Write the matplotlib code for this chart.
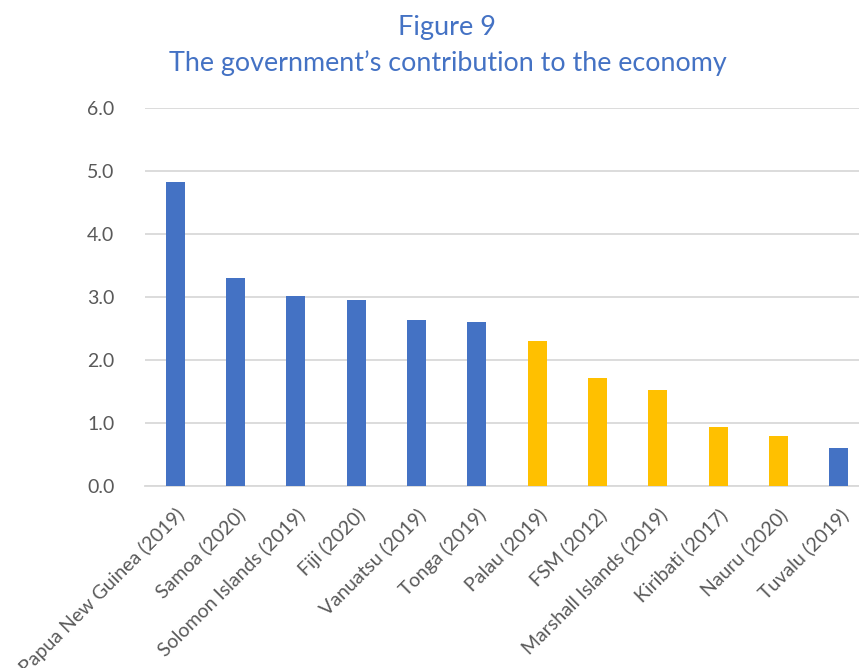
import matplotlib
matplotlib.use("Agg")
import matplotlib.pyplot as plt

# Data
countries = ["Papua New Guinea (2019)", "Samoa (2020)", "Solomon Islands (2019)",
             "Fiji (2020)", "Vanuatsu (2019)", "Tonga (2019)", "Palau (2019)",
             "FSM (2012)", "Marshall Islands (2019)", "Kiribati (2017)",
             "Nauru (2020)", "Tuvalu (2019)"]
values = [4.82, 3.30, 3.02, 2.95, 2.63, 2.61, 2.30, 1.71, 1.53, 0.93, 0.80, 0.60]
groups = ["a", "a", "a", "a", "a", "a", "b", "b", "b", "b", "b", "a"]
yticks = [0.0, 1.0, 2.0, 3.0, 4.0, 5.0, 6.0]

BLUE = "#4472C4"
GOLD = "#FFC000"
colors = [BLUE if g == "a" else GOLD for g in groups]

plt.rcParams["font.family"] = ["Lato", "DejaVu Sans"]

W, H = 859, 668
fig = plt.figure(figsize=(W / 100, H / 100), dpi=100)
left, right, bottom, top = 145, 869, 486, 108
ax = fig.add_axes([left / W, 1 - bottom / H, (right - left) / W, (bottom - top) / H])

x = range(len(countries))
ax.bar(x, values, width=0.31, color=colors, zorder=3)

ax.set_xlim(-0.5, len(countries) - 0.5)
ax.set_ylim(0, 6)
ax.set_yticks(yticks)
ax.set_yticklabels([f"{v:.1f}" for v in yticks])
ax.yaxis.grid(True, color="#D9D9D9", linewidth=1.3, zorder=0)
ax.set_axisbelow(True)

for s in ["top", "right", "left"]:
    ax.spines[s].set_visible(False)
ax.spines["bottom"].set_color("#D9D9D9")
ax.spines["bottom"].set_linewidth(1.3)

ax.tick_params(axis="y", length=0, pad=22, labelsize=14, labelcolor="#595959")
ax.tick_params(axis="x", length=0, pad=14, labelsize=14, labelcolor="#595959")
ax.set_xticks(list(x))
ax.set_xticklabels(countries, rotation=45, ha="right", rotation_mode="anchor")

fig.text(447 / W, 1 - 35 / H, "Figure 9", ha="center", va="baseline",
         fontsize=19.5, color=BLUE)
fig.text(447.5 / W, 1 - 71 / H, "The government\u2019s contribution to the economy",
         ha="center", va="baseline", fontsize=19.4, color=BLUE)

fig.savefig("out.png", dpi=100)
